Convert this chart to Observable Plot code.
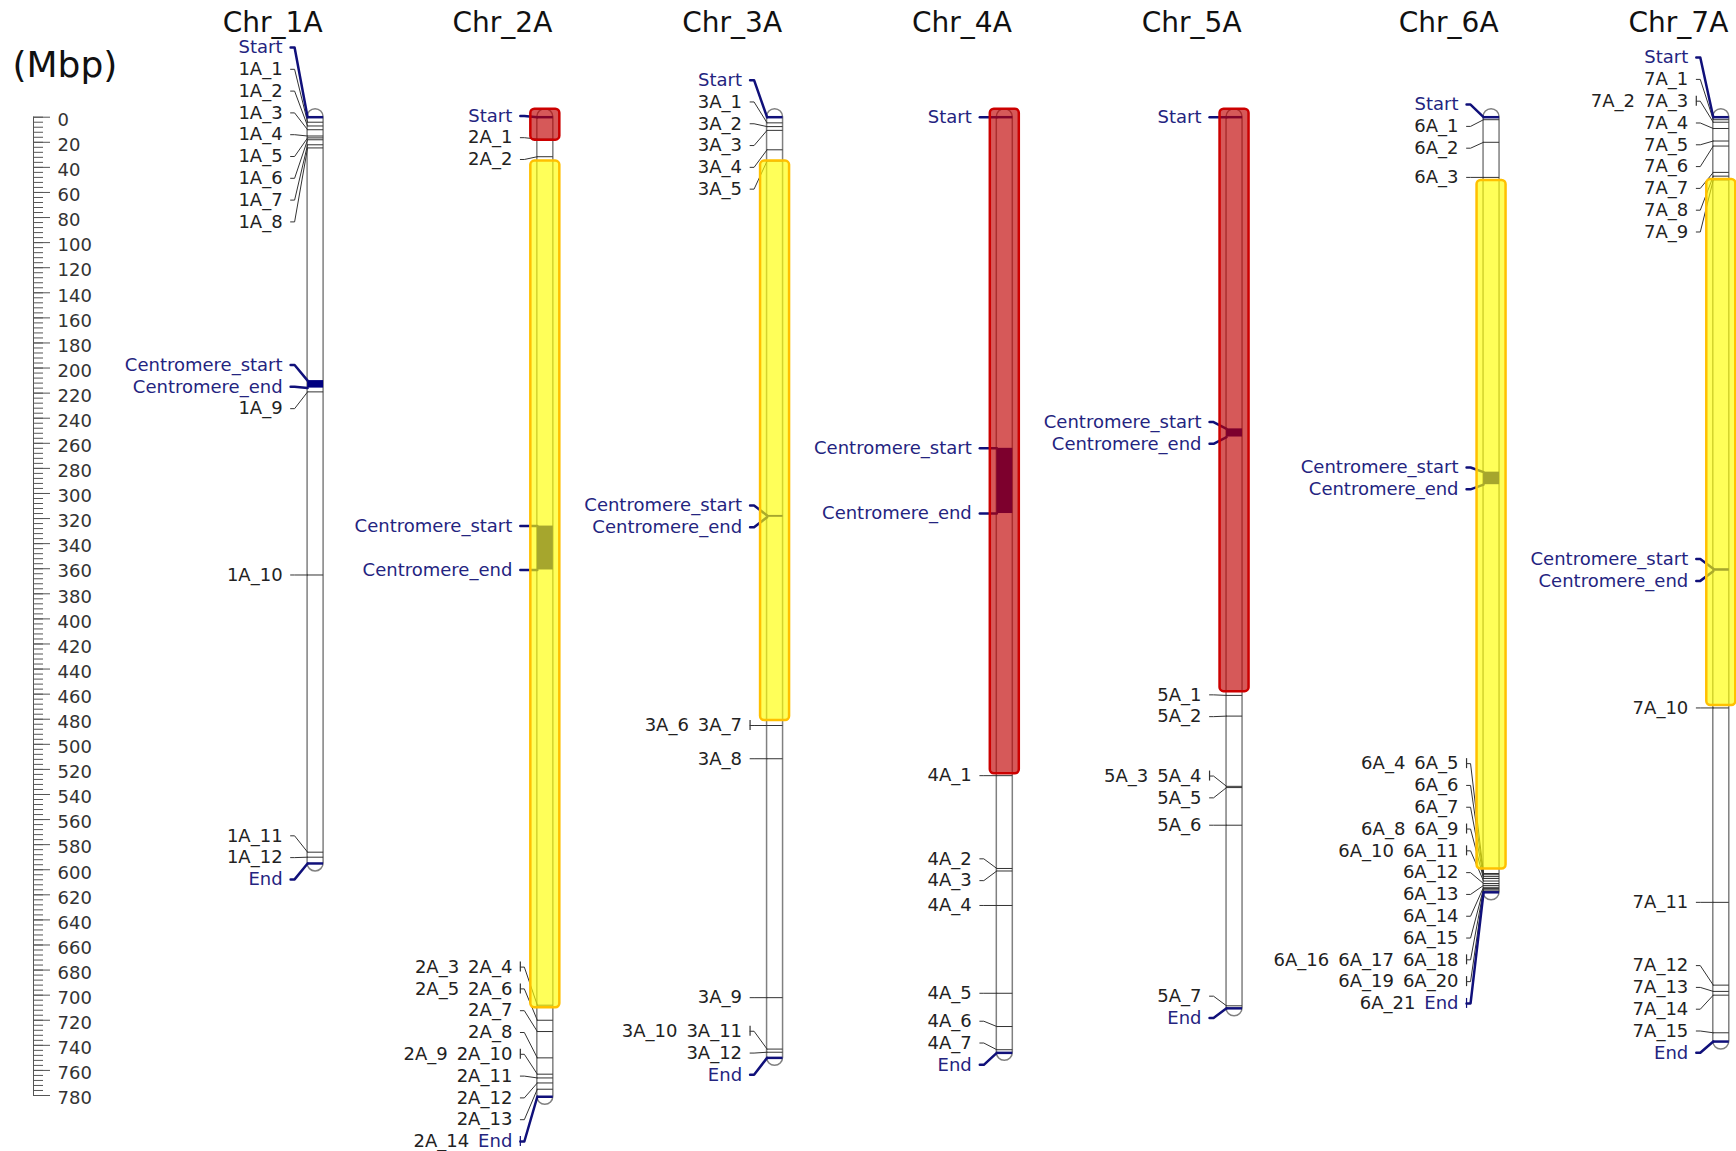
<!DOCTYPE html>
<html><head><meta charset="utf-8">
<script src="https://cdn.jsdelivr.net/npm/d3@7"></script>
<script src="https://cdn.jsdelivr.net/npm/@observablehq/plot@0.6"></script>
<style>
html,body{margin:0;padding:0;background:#fff;overflow:hidden}
#chart svg{display:block;background:#fff}
</style></head><body><div id="chart"></div>
<script>
// ---------------- DATA ----------------
const chromosomes = ["Chr_1A","Chr_2A","Chr_3A","Chr_4A","Chr_5A","Chr_6A","Chr_7A"];
const chrLengths = [595, 781, 750, 746, 710.5, 618, 737];
const centromereStart = [210, 326, 317.5, 264, 248.5, 283, 360];
const centromereEnd   = [216, 361, 319, 316, 255, 293, 362];

const markers1A = [["1A_1",4],["1A_2",7],["1A_3",10],["1A_4",15],["1A_5",16.5],["1A_6",18],["1A_7",22],["1A_8",24.5],
  ["1A_9",219],["1A_10",365],["1A_11",586],["1A_12",590]];
const markers2A = [["2A_1",17.5],["2A_2",31.5],["2A_3",708],["2A_4",708],["2A_5",720],["2A_6",720],["2A_7",729],
  ["2A_8",750],["2A_9",763],["2A_10",763],["2A_11",766],["2A_12",770],["2A_13",775],["2A_14",781]];
const markers3A = [["3A_1",4.5],["3A_2",7.5],["3A_3",10.5],["3A_4",26],["3A_5",35],["3A_6",485],["3A_7",485],
  ["3A_8",511.5],["3A_9",702],["3A_10",743],["3A_11",743],["3A_12",745.5]];
const markers4A = [["4A_1",525],["4A_2",599],["4A_3",601],["4A_4",628.5],["4A_5",698.5],["4A_6",725],["4A_7",743.5]];
const markers5A = [["5A_1",461],["5A_2",477.5],["5A_3",533.5],["5A_4",533.5],["5A_5",534.5],["5A_6",564.5],["5A_7",708.5]];
const markers6A = [["6A_1",2],["6A_2",20],["6A_3",48],["6A_4",603],["6A_5",603],["6A_6",604],["6A_7",605.5],
  ["6A_8",607],["6A_9",607],["6A_10",609],["6A_11",609],["6A_12",611],["6A_13",612.5],["6A_14",614],["6A_15",615],
  ["6A_16",616],["6A_17",616],["6A_18",616],["6A_19",617],["6A_20",617],["6A_21",618]];
const markers7A = [["7A_1",2],["7A_2",4],["7A_3",4],["7A_4",9],["7A_5",19],["7A_6",23],["7A_7",44],["7A_8",47],["7A_9",50],
  ["7A_10",471],["7A_11",626],["7A_12",692],["7A_13",697],["7A_14",700],["7A_15",730]];
const markerSets = [markers1A, markers2A, markers3A, markers4A, markers5A, markers6A, markers7A];

// highlighted regions
const regionChr   = ["Chr_2A","Chr_2A","Chr_3A","Chr_4A","Chr_5A","Chr_6A","Chr_7A"];
const regionStart = [0, 35, 35, 0, 0, 50.4, 49.6];
const regionEnd   = [18.3, 710, 481, 523.5, 458, 599.4, 469];
const regionType  = ["red","yellow","yellow","red","red","yellow","yellow"];

// ruler
const rulerLabels = [0,20,40,60,80,100,120,140,160,180,200,220,240,260,280,300,320,340,360,380,400,
  420,440,460,480,500,520,540,560,580,600,620,640,660,680,700,720,740,760,780];
const rulerMinorStep = 4;

// ---------------- LAYOUT ----------------
const W = 1736, H = 1151, MT = 116.7, MB = 56, YMAX = 780;
const k = (H - MT - MB) / YMAX;          // px per Mbp
const FONT = '"DejaVu Sans", Verdana, sans-serif';
const FS = 18;
const ctx = document.createElement("canvas").getContext("2d");
ctx.font = `${FS}px "DejaVu Sans"`;
const tw = s => ctx.measureText(s).width;
const SEP = "\u2002";
const sepW = tw(SEP);
const special = new Set(["Start","End","Centromere_start","Centromere_end"]);
const NAVY = "#10107a", NAVYTXT = "#24247f", BLACKTXT = "#222";

const sp = 21.8 / k;                     // label spacing in Mbp
const minV = (47 - MT) / k, maxV = (H - 10 - MT) / k;
const cap = 8 / k;

const chrData = chromosomes.map((name, i) => {
  const items = [{name:"Start", pos:0},
    ...markerSets[i].map(([n,p]) => ({name:n, pos:p})),
    {name:"Centromere_start", pos:centromereStart[i]},
    {name:"Centromere_end", pos:centromereEnd[i]},
    {name:"End", pos:chrLengths[i]}];
  items.sort((a,b) => a.pos - b.pos);
  const rows = [];
  for (const it of items) {
    const last = rows[rows.length-1];
    if (last && last.pos === it.pos) last.names.push(it.name);
    else rows.push({pos: it.pos, names: [it.name]});
  }
  rows.forEach(r => {
    r.width = d3.sum(r.names, tw) + (r.names.length - 1) * sepW;
    r.special = r.names.some(n => special.has(n));
    r.startEnd = r.names.includes("Start") || r.names.includes("End");
  });
  // cluster label layout
  let cl = rows.map(r => ({rows:[r]}));
  const top = c => { const n = c.rows.length; const m = d3.mean(c.rows, r => r.pos);
    return Math.max(minV, Math.min(maxV - (n-1)*sp, m - (n-1)*sp/2)); };
  let merged = true;
  while (merged) {
    merged = false;
    for (let j = 1; j < cl.length; j++) {
      if (top(cl[j]) < top(cl[j-1]) + cl[j-1].rows.length * sp - 1e-9) {
        cl[j-1] = {rows: cl[j-1].rows.concat(cl[j].rows)}; cl.splice(j, 1); merged = true; break;
      }
    }
  }
  cl.forEach(c => { const t = top(c); c.rows.forEach((r, q) => r.ly = t + q * sp); });
  return {name, i, rows, len: chrLengths[i]};
});

const RULER_X = 33, RULER_LBL = 57;
const cx = [];
let prevRight = RULER_LBL + tw("780") + 2;
chrData.forEach((c, i) => {
  const x = prevRight + 31 + 33 + d3.max(c.rows, r => r.width);
  cx.push(x); c.cx = x; prevRight = x + 8;
});

// derived mark tables
const acrossLines = [], connectors = [], brackets = [], pieces = [];
chrData.forEach(c => {
  c.rows.forEach((r, ri) => {
    acrossLines.push({cx: c.cx, pos: r.pos, startEnd: r.startEnd, cen: r.names[0].startsWith("Centromere")});
    const id = c.name + "-" + ri;
    [[c.cx - 25, r.ly], [c.cx - 21, r.ly], [c.cx - 8, r.pos]].forEach(([x, y]) =>
      connectors.push({id, x, y, special: r.special}));
    if (r.names.length > 1) brackets.push({x: c.cx - 25, ly: r.ly, special: r.special});
    let xe = c.cx - 33;
    for (let q = r.names.length - 1; q >= 0; q--) {
      const n = r.names[q];
      pieces.push({x: xe, y: r.ly, text: n, fill: special.has(n) ? NAVYTXT : BLACKTXT});
      xe -= tw(n) + sepW;
    }
  });
});
const regions = regionChr.map((ch, j) => ({cx: cx[chromosomes.indexOf(ch)], s: regionStart[j], e: regionEnd[j], t: regionType[j]}));
const minorTicks = d3.range(0, YMAX + 0.01, rulerMinorStep);

// ---------------- PLOT ----------------
const plot = Plot.plot({
  width: W, height: H,
  marginTop: MT, marginBottom: MB, marginLeft: 0, marginRight: 0,
  x: {domain: [0, W], axis: null},
  y: {domain: [0, YMAX], reverse: true, axis: null},
  color: {type: "identity"},
  style: {fontFamily: FONT, background: "#fff"},
  marks: [
    // ruler
    Plot.ruleX([0], {x: () => RULER_X, y1: 0, y2: YMAX, stroke: "#555", strokeWidth: 1}),
    Plot.ruleY(minorTicks, {y: d => d, x1: RULER_X, x2: RULER_X + 10, stroke: "#555", strokeWidth: 1}),
    Plot.ruleY(rulerLabels, {y: d => d, x1: RULER_X, x2: RULER_X + 17, stroke: "#555", strokeWidth: 1}),
    Plot.text(rulerLabels, {y: d => d, x: RULER_LBL, text: d => String(d), textAnchor: "start", dy: 3, fontSize: FS, fill: "#333"}),
    // chromosome bars
    Plot.rect(chrData, {x1: d => d.cx - 8, x2: d => d.cx + 8, y1: -cap, y2: d => d.len + cap, rx: 8,
      fill: "#fff", stroke: "#808080", strokeWidth: 1.5}),
    // marker lines
    Plot.ruleY(acrossLines.filter(d => !d.startEnd && !d.cen), {y: "pos", x1: d => d.cx - 8, x2: d => d.cx + 8, stroke: "#333", strokeWidth: 1}),
    Plot.ruleY(acrossLines.filter(d => d.startEnd), {y: "pos", x1: d => d.cx - 8, x2: d => d.cx + 8, stroke: NAVY, strokeWidth: 2.5}),
    // centromeres
    Plot.rect(chrData, {x1: d => d.cx - 8, x2: d => d.cx + 8, y1: d => centromereStart[d.i], y2: d => centromereEnd[d.i], fill: "#000080"}),
    // connectors
    Plot.line(connectors.filter(d => !d.special), {x: "x", y: "y", z: "id", stroke: "#333", strokeWidth: 1}),
    Plot.line(connectors.filter(d => d.special), {x: "x", y: "y", z: "id", stroke: NAVY, strokeWidth: 2.5}),
    Plot.ruleX(brackets, {x: "x", y1: d => d.ly - 5 / k, y2: d => d.ly + 5 / k, stroke: d => d.special ? NAVY : "#333", strokeWidth: 1.2}),
    // highlighted regions
    Plot.rect(regions, {x1: d => d.cx - 14.5, x2: d => d.cx + 14.5, y1: d => d.s === 0 ? -cap : d.s, y2: "e", rx: 4,
      fill: d => d.t === "red" ? "#c00000" : "#ffff00", fillOpacity: 0.65,
      stroke: d => d.t === "red" ? "#cc0000" : "#ffc000", strokeWidth: 2.5}),
    // labels
    Plot.text(pieces, {x: "x", y: "y", text: "text", fill: "fill", textAnchor: "end", fontSize: FS}),
    // titles
    Plot.text(chromosomes, {x: (d, i) => cx[i] + 7, frameAnchor: "top", dy: -85, lineAnchor: "bottom",
      textAnchor: "end", fontSize: 28, fill: "#111", text: d => d}),
    Plot.text(["(Mbp)"], {frameAnchor: "top-left", dx: 12, dy: -40, lineAnchor: "bottom", textAnchor: "start",
      fontSize: 36, fill: "#111", text: d => d})
  ]
});
document.getElementById("chart").appendChild(plot);
</script>
</body></html>
